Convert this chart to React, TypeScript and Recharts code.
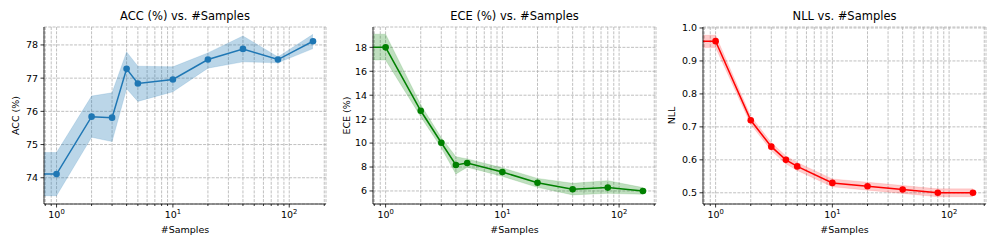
import { Area, CartesianGrid, ComposedChart, Line, XAxis, YAxis } from "recharts";

// sample counts; the first run used 0 samples (shown clipped at the left edge on the log axis)
const samples = [0, 1, 2, 3, 4, 5, 10, 20, 40, 80, 160];

const accMean = [74.11, 74.11, 75.84, 75.81, 77.28, 76.84, 76.96, 77.56, 77.88, 77.56, 78.11];
const accLo = [73.46, 73.46, 75.22, 75.09, 76.68, 76.3, 76.59, 77.3, 77.49, 77.46, 77.89];
const accHi = [74.76, 74.76, 76.46, 76.56, 77.79, 77.36, 77.34, 77.76, 78.27, 77.64, 78.32];

const eceMean = [18.0, 18.0, 12.7, 10.03, 8.17, 8.33, 7.58, 6.69, 6.14, 6.28, 6.0];
const eceLo = [16.94, 16.94, 12.2, 9.6, 7.42, 7.98, 7.22, 6.3, 5.67, 5.8, 5.72];
const eceHi = [19.1, 19.1, 13.2, 10.45, 8.86, 8.68, 7.93, 7.05, 6.64, 6.86, 6.28];

const nllMean = [0.96, 0.96, 0.72, 0.64, 0.6, 0.58, 0.53, 0.52, 0.51, 0.5, 0.5];
const nllLo = [0.941, 0.941, 0.708, 0.628, 0.588, 0.568, 0.518, 0.508, 0.498, 0.488, 0.488];
const nllHi = [0.978, 0.978, 0.732, 0.652, 0.612, 0.592, 0.542, 0.532, 0.522, 0.512, 0.512];

const xTicks = [0.8, 0.9, 1, 2, 3, 4, 5, 6, 7, 8, 9, 10, 20, 30, 40, 50, 60, 70, 80, 90, 100, 200];
const xMajor = [1, 10, 100];
const accTicks = [74, 75, 76, 77, 78];
const eceTicks = [6, 8, 10, 12, 14, 16, 18];
const nllTicks = [0.5, 0.6, 0.7, 0.8, 0.9, 1.0];

const FONT = '"DejaVu Sans", sans-serif';
const CHART_W = 330;
const RIGHT = 4;

const buildRows = (mean: number[], lo: number[], hi: number[]) =>
  samples.map((n, i) => ({
    // log axis can't take 0, clip it far left like matplotlib does
    n: n <= 0 ? 1e-3 : n,
    mean: mean[i],
    band: [lo[i], hi[i]],
  }));

const LogTick = (props: any) => {
  const { x, y, payload } = props;
  const v = payload.value;
  const major = xMajor.includes(v);
  return (
    <g>
      <line x1={x} x2={x} y1={y} y2={y + (major ? 3.5 : 2)} stroke="#000" strokeWidth={0.8} />
      {major && (
        <text x={x} y={y + 14} textAnchor="middle" fontSize={9.5} fill="#000" fontFamily={FONT}>
          10
          <tspan dy={-4} fontSize={6.8}>
            {Math.round(Math.log10(v))}
          </tspan>
        </text>
      )}
    </g>
  );
};

interface PanelProps {
  left: number;
  yWidth: number;
  labelX: number;
  title: string;
  yLabel: string;
  color: string;
  bandOpacity: number;
  rows: ReturnType<typeof buildRows>;
  yDomain: [number, number];
  yTicks: number[];
  fmt: (v: number) => string;
}

const Panel = ({ left, yWidth, labelX, title, yLabel, color, bandOpacity, rows, yDomain, yTicks, fmt }: PanelProps) => (
  <div style={{ position: "absolute", left, top: 0 }}>
    <ComposedChart width={CHART_W} height={249} data={rows} margin={{ top: 27, right: RIGHT, bottom: 0, left: 0 }}>
      <CartesianGrid stroke="#b0b0b0" strokeDasharray="3 1.3" strokeWidth={0.8} />
      <XAxis
        dataKey="n"
        type="number"
        scale="log"
        domain={[0.78, 207]}
        allowDataOverflow
        ticks={xTicks}
        interval={0}
        height={45}
        tickSize={0}
        tickMargin={0}
        tickLine={false}
        axisLine={{ stroke: "#000", strokeWidth: 0.8 }}
        tick={<LogTick />}
        label={(p: any) => (
          <text
            x={p.viewBox.x + p.viewBox.width / 2}
            y={p.viewBox.y + 29}
            textAnchor="middle"
            fontSize={9.5}
            fontFamily={FONT}
            fill="#000"
          >
            #Samples
          </text>
        )}
      />
      <XAxis
        xAxisId="frame"
        orientation="top"
        type="number"
        domain={[0, 1]}
        height={0}
        tick={false}
        tickLine={false}
        axisLine={{ stroke: "#000", strokeWidth: 0.8 }}
      />
      <YAxis
        type="number"
        domain={yDomain}
        allowDataOverflow
        ticks={yTicks}
        width={yWidth}
        tickSize={3.5}
        tickMargin={2.5}
        tickFormatter={fmt}
        tick={{ fontSize: 9.5, fill: "#000", fontFamily: FONT }}
        tickLine={{ stroke: "#000", strokeWidth: 0.8 }}
        axisLine={{ stroke: "#000", strokeWidth: 0.8 }}
        label={(p: any) => {
          const top = p.viewBox.y;
          const cy = top + p.viewBox.height / 2;
          const cx = yWidth + (CHART_W - yWidth - RIGHT) / 2;
          return (
            <g>
              <text
                x={labelX}
                y={cy}
                transform={`rotate(-90 ${labelX} ${cy})`}
                textAnchor="middle"
                fontSize={9.5}
                fontFamily={FONT}
                fill="#000"
              >
                {yLabel}
              </text>
              <text x={cx} y={top - 7} textAnchor="middle" fontSize={11.5} fontFamily={FONT} fill="#000">
                {title}
              </text>
            </g>
          );
        }}
      />
      <YAxis
        yAxisId="frame"
        orientation="right"
        type="number"
        domain={[0, 1]}
        width={0}
        tick={false}
        tickLine={false}
        axisLine={{ stroke: "#000", strokeWidth: 0.8 }}
      />
      <Area
        dataKey="band"
        type="linear"
        fill={color}
        fillOpacity={bandOpacity}
        stroke={color}
        strokeOpacity={bandOpacity * 0.5}
        isAnimationActive={false}
      />
      <Line
        dataKey="mean"
        type="linear"
        stroke={color}
        strokeWidth={1.5}
        dot={{ r: 3.3, fill: color, stroke: color, strokeWidth: 0 }}
        activeDot={false}
        isAnimationActive={false}
      />
    </ComposedChart>
  </div>
);

export default function App() {
  return (
    <div style={{ position: "relative", width: 997, height: 249, background: "#fff", fontFamily: FONT }}>
      <style>{"body{margin:0}"}</style>
      <Panel
        left={0}
        yWidth={44}
        labelX={19}
        title="ACC (%) vs. #Samples"
        yLabel="ACC (%)"
        color="#1f77b4"
        bandOpacity={0.3}
        rows={buildRows(accMean, accLo, accHi)}
        yDomain={[73.21, 78.54]}
        yTicks={accTicks}
        fmt={(v) => String(v)}
      />
      <Panel
        left={330}
        yWidth={43}
        labelX={19.5}
        title="ECE (%) vs. #Samples"
        yLabel="ECE (%)"
        color="#008000"
        bandOpacity={0.25}
        rows={buildRows(eceMean, eceLo, eceHi)}
        yDomain={[4.91, 19.7]}
        yTicks={eceTicks}
        fmt={(v) => String(v)}
      />
      <Panel
        left={660}
        yWidth={43}
        labelX={15}
        title="NLL vs. #Samples"
        yLabel="NLL"
        color="#ff0000"
        bandOpacity={0.2}
        rows={buildRows(nllMean, nllLo, nllHi)}
        yDomain={[0.466, 1.003]}
        yTicks={nllTicks}
        fmt={(v) => v.toFixed(1)}
      />
    </div>
  );
}
